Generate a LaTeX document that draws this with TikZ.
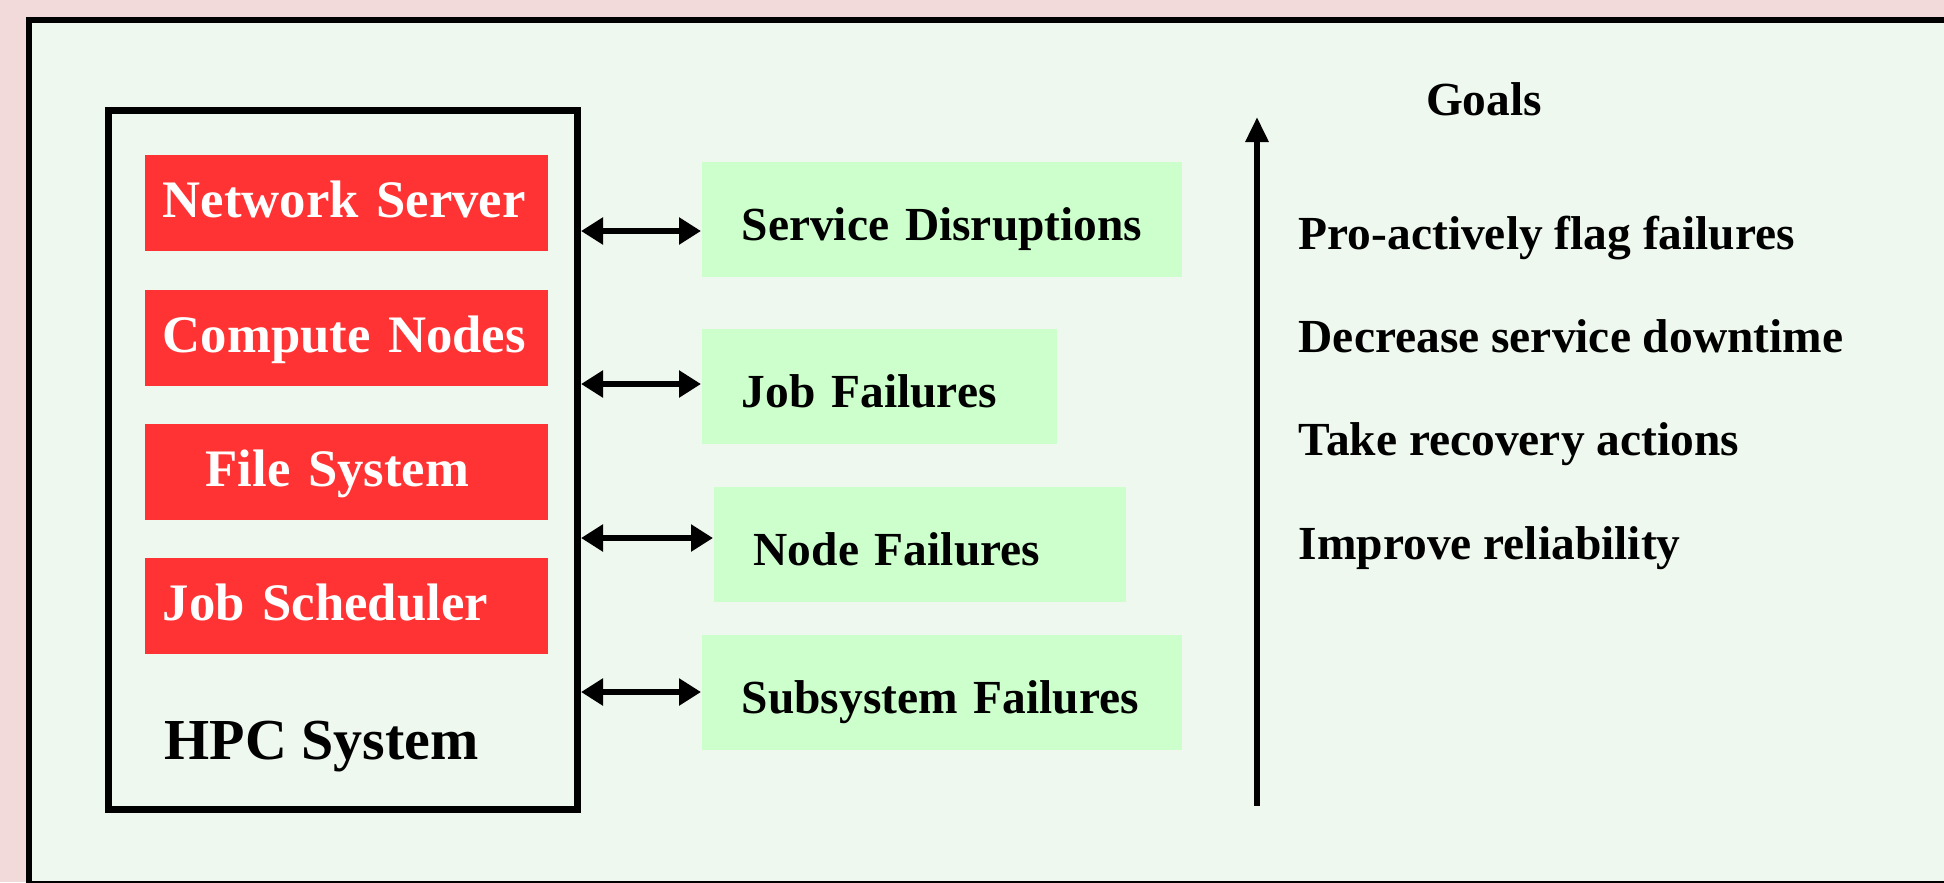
\documentclass[tikz,border=0pt]{standalone}
\usepackage{fontspec}
\setmainfont{Liberation Serif}
\usetikzlibrary{arrows.meta}
\definecolor{bgpink}{RGB}{242,218,218}
\definecolor{panel}{RGB}{239,248,239}
\definecolor{boxred}{RGB}{255,51,51}
\definecolor{boxgreen}{RGB}{204,255,204}
\tikzset{
  redbox/.style={rectangle,fill=boxred,text=white,anchor=north west,
    minimum width=40.3mm,minimum height=9.6mm,inner xsep=1.8mm,inner ysep=0pt,
    text width=36.7mm,align=left,text height=3.5mm,text depth=0.5mm,
    font=\bfseries\fontsize{15}{18}\selectfont},
  greenbox/.style={rectangle,fill=boxgreen,anchor=north west,
    minimum height=11.5mm,inner xsep=4mm,inner ysep=0pt,
    align=left,text height=4.5mm,text depth=0.3mm,
    font=\bfseries\fontsize{13.5}{16}\selectfont},
  goaltext/.style={anchor=base west,inner sep=0pt,font=\bfseries\fontsize{13.5}{16}\selectfont},
  link/.style={{Triangle[length=2.2mm,width=2.6mm]}-{Triangle[length=2.2mm,width=2.6mm]},line width=1.7pt},
  goalarrow/.style={-{Triangle[length=2.5mm,width=2.2mm]},line width=1.7pt}
}
\begin{document}
\begin{tikzpicture}[x=0.1mm,y=-0.1mm]
  \useasboundingbox (0,0) rectangle (1944,882);
  \clip (0,0) rectangle (1944,882);
  \fill[bgpink] (0,0) rectangle (1944,882);
  \draw[fill=panel,line width=1.6pt] (29,20) rectangle (1960,884);

  \node[draw,line width=2pt,minimum width=46.9mm,minimum height=69.9mm,inner sep=0pt,anchor=north west]
    (hpc) at (105,107) {};
  \node[redbox] (netsrv) at (144,154) {\mbox{Network Server}};
  \node[redbox] (compute) at (144,289) {\mbox{Compute Nodes}};
  \node[redbox] (filesys) at (144,423) {\hspace*{4.3mm}\mbox{File System}};
  \node[redbox] (jobsched) at (144,557) {\mbox{Job Scheduler}};
  \node[anchor=base west,inner sep=0pt,font=\bfseries\fontsize{16.5}{19}\selectfont]
    (hpclabel) at (164,759) {HPC System};

  \node[greenbox,text width=40mm] (disrupt) at (701,161) {\mbox{Service Disruptions}};
  \node[greenbox,text width=27.5mm] (jobfail) at (701,328) {\mbox{Job Failures}};
  \node[greenbox,text width=33.2mm] (nodefail) at (713,486) {\mbox{Node Failures}};
  \node[greenbox,text width=40mm] (subfail) at (701,634) {\mbox{Subsystem Failures}};

  \draw[link] (hpc.east |- 0,231) -- (disrupt.west |- 0,231);
  \draw[link] (hpc.east |- 0,384) -- (jobfail.west |- 0,384);
  \draw[link] (hpc.east |- 0,538) -- (nodefail.west |- 0,538);
  \draw[link] (hpc.east |- 0,692) -- (subfail.west |- 0,692);

  \coordinate (arrbot) at (1257,806);
  \coordinate (arrtop) at (1257,117);
  \draw[goalarrow] (arrbot) -- (arrtop);
  \node[anchor=base,inner sep=0pt,font=\bfseries\fontsize{13.5}{16}\selectfont] (goals) at (1484,115) {Goals};
  \node[goaltext] (goal1) at (1298,249) {Pro-actively flag failures};
  \node[goaltext] (goal2) at (1298,352) {Decrease service downtime};
  \node[goaltext] (goal3) at (1298,455) {Take recovery actions};
  \node[goaltext] (goal4) at (1298,559) {Improve reliability};
\end{tikzpicture}
\end{document}
